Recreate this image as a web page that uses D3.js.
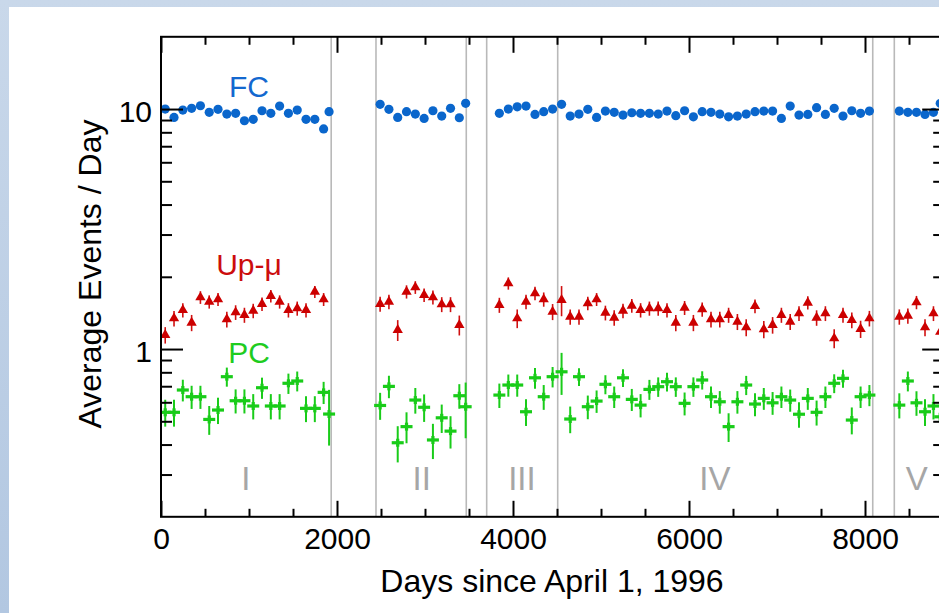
<!DOCTYPE html>
<html><head><meta charset="utf-8">
<script src="https://cdn.jsdelivr.net/npm/d3@7/dist/d3.min.js"></script>
<style>
html,body{margin:0;padding:0;background:#fff;}
svg{display:block;font-family:"Liberation Sans",Helvetica,Arial,sans-serif;}
</style></head>
<body>
<svg id="chart" width="939" height="613"></svg>
<script>
// ---------- data ----------
const fcDays = [48,148,248,348,448,548,648,748,848,948,1048,1148,1248,1348,1448,1548,1648,1748,1848,1910,
  2490,2590,2690,2790,2890,2990,3090,3190,3290,3390,3462,
  3845,3947,4048,4148,4250,4349,4450,4552,
  4650,4750,4850,4950,5050,5150,5250,5350,5450,5550,5650,5750,5850,5950,6050,6150,6250,6350,6450,6550,6650,6750,6850,6950,7050,7150,7250,7350,7450,7550,7650,7750,7850,7950,8050,
  8390,8487,8585,8682,8778,8855];
const fcValues = [10.0,9.23,9.9,10.07,10.32,9.69,9.97,9.53,9.6,8.94,9.06,9.84,9.6,10.29,9.6,9.9,9.06,9.06,8.26,9.75,
  10.46,9.97,9.23,9.75,9.53,9.14,9.84,9.35,10.07,9.2,10.56,
  9.6,10.0,10.22,10.29,9.5,9.75,10.0,10.46,
  9.35,9.53,9.97,9.23,9.81,9.69,9.44,9.65,9.6,9.6,9.53,9.81,9.38,9.84,9.28,9.75,9.69,9.53,9.28,9.35,9.53,9.75,9.81,9.81,9.14,10.29,9.44,9.5,10.13,9.5,10.07,9.35,9.84,9.6,9.81,
  9.81,9.69,9.69,9.5,9.69,10.56];

const upmuDays = [48,148,248,348,448,548,648,748,848,948,1048,1148,1248,1348,1448,1548,1648,1748,1848,
  2490,2590,2690,2790,2890,2990,3090,3190,3290,3390,
  3845,3947,4048,4148,4250,4349,4450,4552,
  4650,4750,4850,4950,5050,5150,5250,5350,5450,5550,5650,5750,5850,5950,6050,6150,6250,6350,6450,6550,6650,6750,6850,6950,7050,7150,7250,7350,7450,7550,7650,7750,7850,7950,8050,
  8390,8487,8585,8682,8778,8855];
const upmuValues = [1.144,1.342,1.453,1.287,1.642,1.574,1.611,1.330,1.422,1.386,1.444,1.54,1.663,1.574,1.453,1.477,1.453,1.733,1.611,
  1.54,1.574,1.2,1.733,1.807,1.679,1.642,1.535,1.535,1.259,
  1.525,1.878,1.342,1.574,1.706,1.611,1.43,1.6,
  1.363,1.363,1.55,1.611,1.416,1.35,1.444,1.515,1.453,1.477,1.477,1.453,1.287,1.486,1.287,1.463,1.33,1.33,1.386,1.3,1.231,1.51,1.208,1.259,1.386,1.3,1.408,1.56,1.35,1.408,1.108,1.386,1.32,1.212,1.342,
  1.363,1.376,1.565,1.231,1.408,1.18];
const upmuErr = [0.09,0.1,0.1,0.1,0.1,0.1,0.1,0.1,0.1,0.1,0.1,0.1,0.1,0.1,0.1,0.1,0.1,0.1,0.1,
  0.11,0.11,0.12,0.11,0.11,0.11,0.11,0.11,0.11,0.12,
  0.11,0.11,0.12,0.11,0.11,0.11,0.11,0.23,
  0.1,0.1,0.1,0.1,0.1,0.1,0.1,0.1,0.1,0.1,0.1,0.1,0.1,0.1,0.1,0.1,0.1,0.1,0.1,0.1,0.1,0.1,0.1,0.1,0.1,0.1,0.1,0.1,0.1,0.1,0.1,0.1,0.1,0.1,0.1,
  0.1,0.1,0.1,0.1,0.1,0.12];

const pcDays = fcDays;
const pcValues = [0.545,0.545,0.675,0.633,0.633,0.509,0.557,0.767,0.609,0.609,0.579,0.690,0.579,0.579,0.720,0.736,0.566,0.566,0.660,0.536,
  0.582,0.699,0.407,0.475,0.613,0.572,0.418,0.517,0.455,0.639,0.575,
  0.643,0.708,0.708,0.548,0.759,0.633,0.767,0.804,
  0.511,0.767,0.575,0.607,0.713,0.633,0.759,0.617,0.584,0.679,0.697,0.731,0.697,0.594,0.697,0.743,0.633,0.603,0.475,0.603,0.708,0.590,0.623,0.597,0.633,0.613,0.535,0.623,0.545,0.633,0.720,0.755,0.506,0.633,0.643,
  0.584,0.736,0.597,0.548,0.579,0.522];
const pcErr = [0.07,0.07,0.07,0.07,0.07,0.07,0.07,0.07,0.07,0.07,0.07,0.07,0.07,0.07,0.07,0.07,0.07,0.07,0.07,0.14,
  0.075,0.075,0.07,0.07,0.075,0.075,0.07,0.07,0.07,0.075,0.15,
  0.075,0.075,0.075,0.07,0.075,0.075,0.075,0.16,
  0.065,0.065,0.065,0.065,0.065,0.065,0.065,0.065,0.065,0.065,0.065,0.065,0.065,0.065,0.065,0.065,0.065,0.065,0.065,0.065,0.065,0.065,0.065,0.065,0.065,0.065,0.065,0.065,0.065,0.065,0.065,0.065,0.065,0.065,0.065,
  0.07,0.07,0.07,0.07,0.07,0.09];

const phaseBounds = [1934, 2443, 3469, 3701, 4508, 8088, 8333];
const phaseNames = ["I","II","III","IV","V"];
const phaseLabelDays = [963, 2963, 4102, 6295, 8588];
const xMajorTicks = [0,2000,4000,6000,8000];
const xMinorTicks = [500,1000,1500,2500,3000,3500,4500,5000,5500,6500,7000,7500,8500];
const yMajorTicks = [1,10];
const yMinorTicks = [0.3,0.4,0.5,0.6,0.7,0.8,0.9,2,3,4,5,6,7,8,9];
const seriesLabels = [
  {text:"FC", color:"#1368cf", day:1000, value:11.2},
  {text:"Up-\u03bc", color:"#cc0d0d", day:1000, value:2.03},
  {text:"PC", color:"#1fcc1f", day:1000, value:0.874}
];

// ---------- layout ----------
const svg = d3.select("#chart");
const W = 939, H = 613;
const pL = 161, pR = 944.2, pT = 36.8, pB = 516.8;
const x = d3.scaleLinear().domain([0, 8900]).range([pL, pR]);
const y = d3.scaleLog().domain([0.2, 20]).range([pB, pT]);
const FONT = '"Liberation Sans",Helvetica,Arial,sans-serif';

// background frame
const defs = svg.append("defs");
const grad = defs.append("linearGradient").attr("id","bg").attr("x1",0).attr("y1",0).attr("x2",0).attr("y2",1);
grad.append("stop").attr("offset","0%").attr("stop-color","#c9d8ea");
grad.append("stop").attr("offset","100%").attr("stop-color","#b2c7e1");
svg.append("rect").attr("width",W).attr("height",H).attr("fill","url(#bg)");
svg.append("rect").attr("x",9).attr("y",7).attr("width",W-9).attr("height",H-7).attr("fill","#fff");

const clip = defs.append("clipPath").attr("id","plotclip");
clip.append("rect").attr("x",pL).attr("y",pT).attr("width",pR-pL).attr("height",pB-pT);

// phase lines
svg.append("g").selectAll("line").data(phaseBounds).join("line")
  .attr("x1",d=>x(d)).attr("x2",d=>x(d)).attr("y1",pT).attr("y2",pB)
  .attr("stroke","#b9b9b9").attr("stroke-width",1.6);

// phase labels
svg.append("g").selectAll("text").data(phaseNames).join("text")
  .attr("x",(d,i)=>x(phaseLabelDays[i])).attr("y",490)
  .attr("text-anchor","middle").attr("font-size",33).attr("fill","#a6a6a6")
  .text(d=>d);

const plot = svg.append("g").attr("clip-path","url(#plotclip)");

// FC points
plot.append("g").selectAll("circle").data(fcValues).join("circle")
  .attr("cx",(d,i)=>x(fcDays[i])).attr("cy",d=>y(d)).attr("r",4.6)
  .attr("fill","#0a66cc");

// Up-mu error bars and triangles
const ug = plot.append("g");
ug.selectAll("line").data(upmuValues).join("line")
  .attr("x1",(d,i)=>x(upmuDays[i])).attr("x2",(d,i)=>x(upmuDays[i]))
  .attr("y1",(d,i)=>y(d+upmuErr[i])).attr("y2",(d,i)=>y(d-upmuErr[i]))
  .attr("stroke","#d01010").attr("stroke-width",1.6);
const tri = d3.symbol().type(d3.symbolTriangle).size(46);
ug.selectAll("path").data(upmuValues).join("path")
  .attr("d",tri)
  .attr("transform",(d,i)=>`translate(${x(upmuDays[i])},${y(d)})`)
  .attr("fill","#cc0000");

// PC error bars and crosses
const pg = plot.append("g");
pg.selectAll("line.v").data(pcValues).join("line").attr("class","v")
  .attr("x1",(d,i)=>x(pcDays[i])).attr("x2",(d,i)=>x(pcDays[i]))
  .attr("y1",(d,i)=>y(d+pcErr[i])).attr("y2",(d,i)=>y(Math.max(d-pcErr[i],0.21)))
  .attr("stroke","#19cc19").attr("stroke-width",2);
pg.selectAll("line.h").data(pcValues).join("line").attr("class","h")
  .attr("x1",(d,i)=>x(pcDays[i])-6).attr("x2",(d,i)=>x(pcDays[i])+6)
  .attr("y1",d=>y(d)).attr("y2",d=>y(d))
  .attr("stroke","#19cc19").attr("stroke-width",3.2);
pg.selectAll("line.c").data(pcValues).join("line").attr("class","c")
  .attr("x1",(d,i)=>x(pcDays[i])).attr("x2",(d,i)=>x(pcDays[i]))
  .attr("y1",d=>y(d)-4).attr("y2",d=>y(d)+4)
  .attr("stroke","#19cc19").attr("stroke-width",3.2);

// series labels
svg.append("g").selectAll("text").data(seriesLabels).join("text")
  .attr("x",d=>x(d.day)).attr("y",d=>y(d.value))
  .attr("text-anchor","middle").attr("font-size",30).attr("fill",d=>d.color)
  .text(d=>d.text);

// axes
function styleAxis(g){
  g.select(".domain").remove();
  g.selectAll(".tick line").attr("stroke","#000").attr("stroke-width",2);
  g.selectAll("text").attr("font-family",FONT).attr("fill","#000");
}
// bottom
svg.append("g").attr("transform",`translate(0,${pB})`)
  .call(d3.axisBottom(x).tickValues(xMajorTicks).tickSize(-16).tickPadding(11).tickFormat(d3.format("d")))
  .call(styleAxis).call(g=>g.selectAll("text").attr("font-size",30));
svg.append("g").attr("transform",`translate(0,${pB})`)
  .call(d3.axisBottom(x).tickValues(xMinorTicks).tickSize(-8).tickFormat(""))
  .call(styleAxis);
// top
svg.append("g").attr("transform",`translate(0,${pT})`)
  .call(d3.axisTop(x).tickValues(xMajorTicks).tickSize(-16).tickFormat(""))
  .call(styleAxis);
svg.append("g").attr("transform",`translate(0,${pT})`)
  .call(d3.axisTop(x).tickValues(xMinorTicks).tickSize(-8).tickFormat(""))
  .call(styleAxis);
// left
svg.append("g").attr("transform",`translate(${pL},0)`)
  .call(d3.axisLeft(y).tickValues(yMajorTicks).tickSize(-22).tickPadding(9).tickFormat(d3.format("d")))
  .call(styleAxis).call(g=>g.selectAll("text").attr("font-size",30).attr("dy","0.42em"));
svg.append("g").attr("transform",`translate(${pL},0)`)
  .call(d3.axisLeft(y).tickValues(yMinorTicks).tickSize(-11).tickFormat(""))
  .call(styleAxis);
// right
svg.append("g").attr("transform",`translate(${pR},0)`)
  .call(d3.axisRight(y).tickValues(yMajorTicks).tickSize(-22).tickFormat(""))
  .call(styleAxis);
svg.append("g").attr("transform",`translate(${pR},0)`)
  .call(d3.axisRight(y).tickValues(yMinorTicks).tickSize(-11).tickFormat(""))
  .call(styleAxis);

// frame
svg.append("rect").attr("x",pL).attr("y",pT).attr("width",pR-pL).attr("height",pB-pT)
  .attr("fill","none").attr("stroke","#000").attr("stroke-width",2);

// axis titles
svg.append("text").attr("x",552).attr("y",592).attr("text-anchor","middle")
  .attr("font-size",32).attr("fill","#000").text("Days since April 1, 1996");
svg.append("text").attr("transform","translate(101,274) rotate(-90)").attr("text-anchor","middle")
  .attr("font-size",32).attr("fill","#000").text("Average Events / Day");
</script>
</body></html>
